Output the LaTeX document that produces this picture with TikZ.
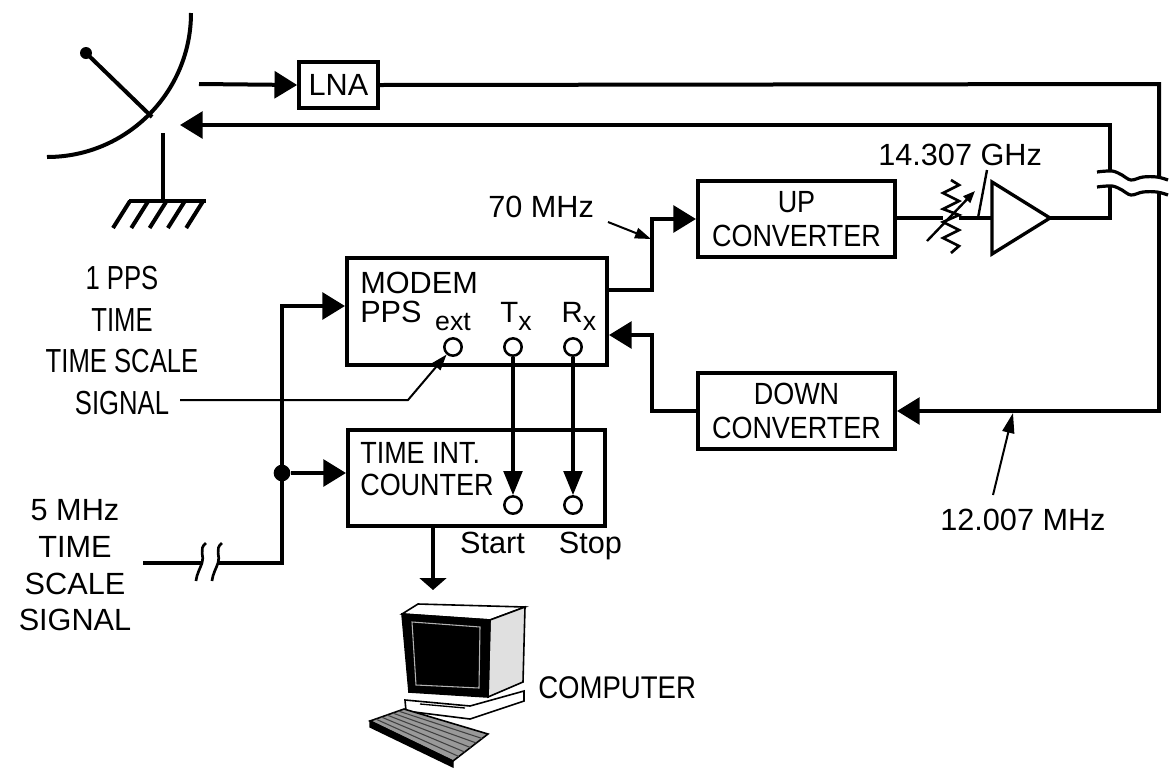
\documentclass[tikz,border=0pt]{standalone}
\usepackage{fontspec}
\setmainfont{Liberation Sans}
\newfontfamily\condfont{Liberation Sans}[FakeStretch=0.88]
\newfontfamily\narrowfont{Liberation Sans}[FakeStretch=0.77]
\usetikzlibrary{arrows.meta,calc}
\begin{document}
\begin{tikzpicture}[x=0.75pt,y=-0.75pt,
  wire/.style={line width=3pt},
  medwire/.style={line width=2.4pt},
  thinwire/.style={line width=1.5pt},
  bigarrow/.style={-{Triangle[length=17pt,width=20pt]}},
  midarrow/.style={-{Triangle[length=18pt,width=14pt]}},
  smallarrow/.style={-{Triangle[length=12pt,width=8pt]}},
  flatarrow/.style={-{Triangle[length=9pt,width=20pt]}},
  box/.style={draw,line width=3pt,rectangle,inner sep=0pt},
  port/.style={circle,draw,line width=1.9pt,minimum size=13pt,inner sep=0pt},
  lbl/.style={inner sep=0pt,font=\fontsize{23}{27}\selectfont},
  small/.style={inner sep=0pt,font=\fontsize{23}{26}\selectfont},
  condlbl/.style={inner sep=0pt,align=center,font=\condfont\fontsize{23}{25.5}\selectfont},
]
\fill[white] (0,0) rectangle (1172,772);
\useasboundingbox (0,0) rectangle (1172,772);

% ---------- antenna ----------
\draw[wire] (191,13) .. controls (191,92.5) and (126.5,157) .. (47,157);
\draw[wire] (86,53) -- (152,117);
\fill (86,53) circle[radius=4.5pt];
\draw[wire] (163,133) -- (163,201);
\draw[wire] (129,201) -- (206,201);
\foreach \i in {0,1,2,3,4} {
  \draw[wire] (130+\i*18.3,201) -- (113+\i*18.3,228);
}

% ---------- nodes ----------
\node[box,minimum width=59pt,minimum height=34pt,lbl] (lna) at (338.5,85) {LNA};
\node[box,minimum width=147.75pt,minimum height=57pt,condlbl] (upc) at (796.5,219) {UP\\CONVERTER};
\node[box,minimum width=147.75pt,minimum height=57pt,condlbl] (down) at (796.5,411) {DOWN\\CONVERTER};
\node[box,minimum width=195pt,minimum height=80pt] (modem) at (477,311.5) {};
\node[box,minimum width=192.75pt,minimum height=72pt] (counter) at (476.5,478) {};

% modem texts
\node[lbl,anchor=base west] (tmodem) at (360,293) {MODEM};
\node[lbl,anchor=base west] (tpps) at (360,322) {PPS};
\node[inner sep=0pt,anchor=base,font=\fontsize{20}{20}\selectfont] (text) at (453,330) {ext};
\node[inner sep=0pt,anchor=base,font=\fontsize{22}{22}\selectfont] (ttx) at (516,322) {T\raisebox{-6pt}{\fontsize{20}{20}\selectfont x}};
\node[inner sep=0pt,anchor=base,font=\fontsize{22}{22}\selectfont] (trx) at (579,322) {R\raisebox{-6pt}{\fontsize{20}{20}\selectfont x}};
\node[port] (pext) at (453,347) {};
\node[port] (ptx) at (513,347) {};
\node[port] (prx) at (573,347) {};

% counter texts
\node[condlbl,anchor=base west] (ttime) at (360,463) {TIME INT.};
\node[condlbl,anchor=base west] (tcount) at (360,495) {COUNTER};
\node[port] (pstart) at (513,505) {};
\node[port] (pstop) at (573,505) {};
\node[lbl,anchor=base] (tstart) at (492.5,553) {Start};
\node[lbl,anchor=base] (tstop) at (590.5,553) {Stop};

% left labels
\node[inner sep=0pt,align=center,font=\narrowfont\fontsize{25}{31.3}\selectfont] (lab1) at (122,340.5) {1 PPS\\TIME\\TIME SCALE\\SIGNAL};
\node[inner sep=0pt,align=center,font=\fontsize{23}{27.5}\selectfont] (lab5) at (75,565.5) {5 MHz\\TIME\\SCALE\\SIGNAL};

% frequency labels
\node[small,anchor=base west] (t14) at (878,165) {14.307 GHz};
\node[small,anchor=base west] (t70) at (488,217) {70 MHz};
\node[small,anchor=base west] (t12) at (940,530) {12.007 MHz};
\node[lbl,anchor=base west,font=\condfont\fontsize{23.5}{27}\selectfont] (tcomp) at (538,698) {COMPUTER};

% ---------- coordinates ----------
\coordinate (antout) at (199,84);
\coordinate (antin) at (180,125);
\coordinate (rtop) at (1159,84);
\coordinate (rbrk1) at (1159,177);
\coordinate (rbrk2) at (1159,193);
\coordinate (rbot) at (1159,411);
\coordinate (itop) at (1110,125);
\coordinate (ibrk1) at (1110,171);
\coordinate (ibrk2) at (1110,186);
\coordinate (iamp) at (1110,218);
\coordinate (amptip) at (1050,218);
\coordinate (ampin) at (992,218);
\coordinate (stub) at (967,218);
\coordinate (resin) at (943,218);
\coordinate (cornerA) at (652,335);
\coordinate (cornerB) at (652,290);
\coordinate (cornerC) at (282,306);
\coordinate (in5) at (143,563);
\coordinate (brk1) at (203,563);
\coordinate (brk2) at (219,563);
\coordinate (sigend) at (180,400);
\coordinate (extbend) at (408,400);
\coordinate (cout) at (433,590);
\coordinate (l70) at (608,222);
\coordinate (t70tip) at (651,239);
\coordinate (l12) at (993,495);
\coordinate (t12tip) at (1013,413);
\coordinate (lghz) at (987,170);
\coordinate (tghz) at (978,218);

% ---------- connectors ----------
\draw[wire,bigarrow] (antout) -- (lna.west);
\draw[wire] (lna.east) -- (rtop) -- (rbrk1);
\draw[wire,bigarrow] (rbrk2) -- (rbot) -- (down.east);
\draw[wire,bigarrow] (ibrk1) -- (itop) -- (antin);
\draw[wire] (amptip) -- (iamp) -- (ibrk2);

% break marks on the right
\draw[medwire] plot[smooth,tension=0.6] coordinates {(1097,172) (1112,171) (1122,175) (1131,180) (1143,177) (1157,177) (1168,180)};
\draw[medwire] plot[smooth,tension=0.6] coordinates {(1097,187) (1112,186) (1122,190) (1131,195) (1143,192) (1157,192) (1168,195)};

% amplifier
\draw[line width=2.5pt,line join=miter] (992,182) -- (amptip) -- (992,254) -- cycle;
\draw[wire] (stub) -- (ampin);
% attenuator
\draw[wire] (upc.east |- resin) -- (resin);
\draw[line width=2pt] (951,180) -- (959,185) -- (943,193) -- (959,201) -- (943,209) -- (959,215) -- (943,222) -- (959,230) -- (943,238) -- (959,246) -- (951,253);
\draw[wire] (959,218) -- (stub);
\draw[line width=1.8pt,-{Triangle[length=9pt,width=7pt]}] (927,241) -- (975,191);
\draw[line width=1.8pt] (lghz) -- (tghz);

% modem <-> converters
\draw[wire,bigarrow] (cornerB -| modem.east) -- (cornerB) |- (upc.west);
\draw[wire,bigarrow] (down.west) -| (cornerA) -- (cornerA -| modem.east);
\draw[thinwire,smallarrow] (l70) -- (t70tip);
\draw[thinwire,-{Triangle[length=15pt,width=9pt]}] (l12) -- (t12tip);

% left inputs
\draw[wire] (in5) -- (brk1);
\draw[wire,bigarrow] (brk2) -| (cornerC) -- (cornerC -| modem.west);
\node[circle,fill,minimum size=12.5pt,inner sep=0pt] (junc) at (282,473) {};
\draw[wire,bigarrow] (junc) -- (junc -| counter.west);
\draw[line width=2pt] (206,543) .. controls (198,549) and (205,557) .. (202,563) .. controls (200,569) and (197,573) .. (196,581);
\draw[line width=2pt] (222,543) .. controls (214,549) and (221,557) .. (218,563) .. controls (216,569) and (213,573) .. (212,581);

% ext leader
\draw[thinwire,smallarrow] (sigend) -- (extbend) -- (pext);

% Tx / Rx to Start / Stop
\draw[medwire,midarrow] (ptx) -- (pstart);
\draw[medwire,midarrow] (prx) -- (pstop);

% counter to computer
\draw[wire,flatarrow] (cout |- counter.south) -- (cout);

% ---------- computer ----------
\filldraw[fill=white,line width=1.2pt] (402,614) -- (418,604) -- (525,607) -- (490,620) -- cycle;
\filldraw[fill=black!12,line width=1.2pt] (490,620) -- (525,607) -- (523,682) -- (488,697) -- cycle;
\filldraw[fill=black,line width=1.2pt] (402,614) -- (490,620) -- (488,697) -- (409,692) -- cycle;
\draw[white!70!black,line width=0.8pt] (412,622) -- (480,627) -- (479,688) -- (416,685) -- cycle;
\filldraw[fill=white,line width=1.2pt] (405,700) -- (470,706) -- (524,691) -- (524,701) -- (470,719) -- (406,711) -- cycle;
\draw[line width=1pt] (420,704) -- (465,708);
\filldraw[fill=black!40,line width=1.2pt] (370,721) -- (404,709) -- (488,734) -- (453,761) -- cycle;
\foreach \k in {1,2,3,4,5} {
  \draw[black!75,line width=0.8pt] ($(370,721)!\k/6!(404,709)$) -- ($(453,761)!\k/6!(488,734)$);
}
\filldraw[fill=black,line width=1pt] (370,721) -- (453,761) -- (453,767) -- (370,727) -- cycle;
\end{tikzpicture}
\end{document}
